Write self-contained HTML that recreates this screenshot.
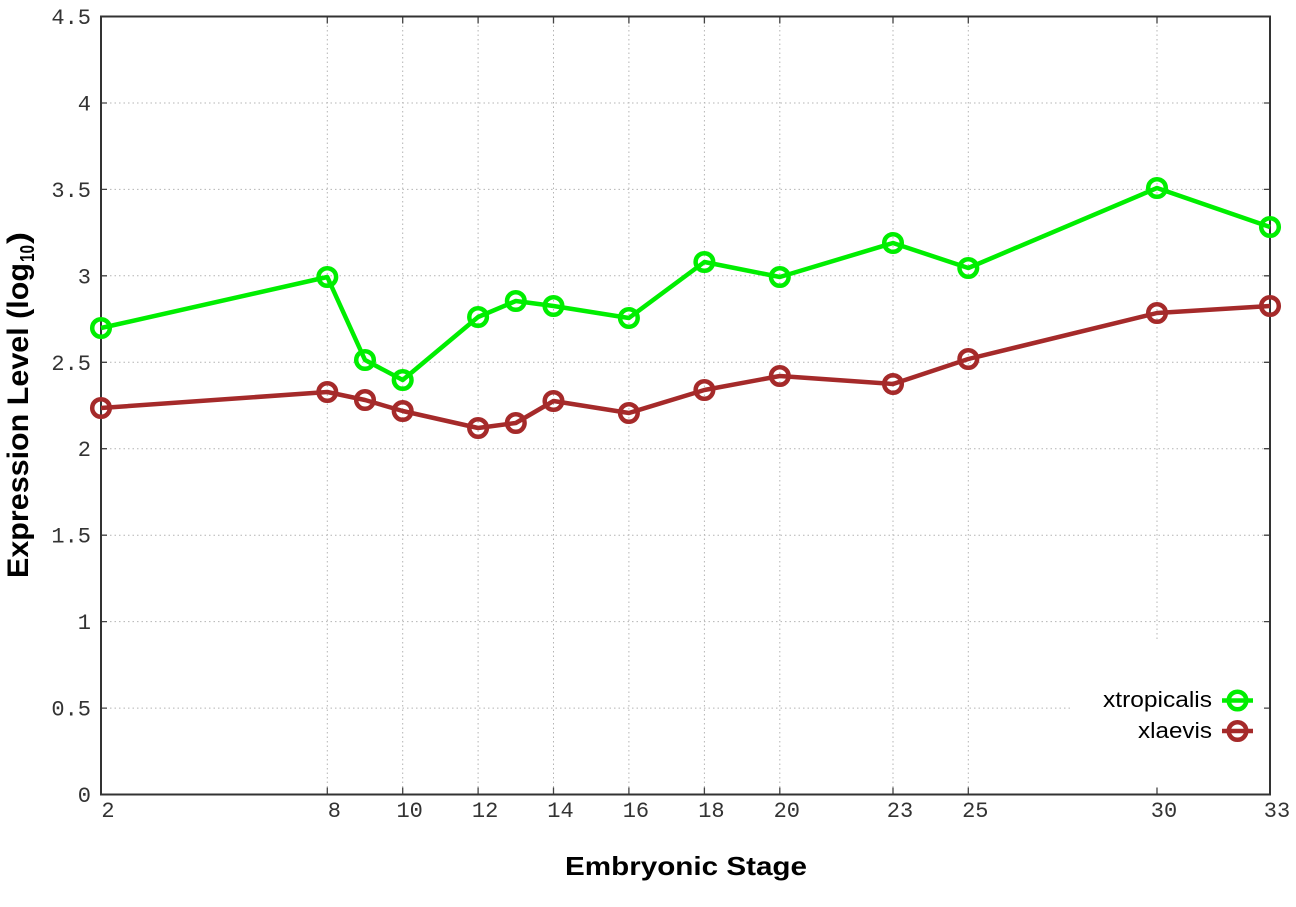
<!DOCTYPE html>
<html><head><meta charset="utf-8"><style>
html,body{margin:0;padding:0;background:#fff;}
svg{display:block;}
</style></head><body>
<svg width="1296" height="907" viewBox="0 0 1296 907" xmlns="http://www.w3.org/2000/svg">
<rect width="1296" height="907" fill="#fff"/>
<!-- grid -->
<g stroke="#b4b4b4" stroke-width="1" stroke-dasharray="1.5,3">
<line x1="101" y1="708.1" x2="1270" y2="708.1"/>
<line x1="101" y1="621.6" x2="1270" y2="621.6"/>
<line x1="101" y1="535.2" x2="1270" y2="535.2"/>
<line x1="101" y1="448.7" x2="1270" y2="448.7"/>
<line x1="101" y1="362.3" x2="1270" y2="362.3"/>
<line x1="101" y1="275.8" x2="1270" y2="275.8"/>
<line x1="101" y1="189.4" x2="1270" y2="189.4"/>
<line x1="101" y1="103" x2="1270" y2="103"/>
<line x1="327.3" y1="16.5" x2="327.3" y2="794.5"/>
<line x1="402.7" y1="16.5" x2="402.7" y2="794.5"/>
<line x1="478.1" y1="16.5" x2="478.1" y2="794.5"/>
<line x1="553.5" y1="16.5" x2="553.5" y2="794.5"/>
<line x1="628.9" y1="16.5" x2="628.9" y2="794.5"/>
<line x1="704.4" y1="16.5" x2="704.4" y2="794.5"/>
<line x1="779.8" y1="16.5" x2="779.8" y2="794.5"/>
<line x1="893" y1="16.5" x2="893" y2="794.5"/>
<line x1="968.3" y1="16.5" x2="968.3" y2="794.5"/>
<line x1="1157" y1="16.5" x2="1157" y2="794.5"/>
</g>
<!-- legend box (covers grid) -->
<rect x="1071" y="642" width="194" height="146" fill="#fff"/>
<!-- ticks -->
<g stroke="#444" stroke-width="1.3">
<path d="M101 708.1h6M101 621.6h6M101 535.2h6M101 448.7h6M101 362.3h6M101 275.8h6M101 189.4h6M101 103h6"/>
<path d="M1270 708.1h-6M1270 621.6h-6M1270 535.2h-6M1270 448.7h-6M1270 362.3h-6M1270 275.8h-6M1270 189.4h-6M1270 103h-6"/>
<path d="M327.3 794.5v-7M402.7 794.5v-7M478.1 794.5v-7M553.5 794.5v-7M628.9 794.5v-7M704.4 794.5v-7M779.8 794.5v-7M893 794.5v-7M968.3 794.5v-7M1157 794.5v-7"/>
<path d="M327.3 16.5v7M402.7 16.5v7M478.1 16.5v7M553.5 16.5v7M628.9 16.5v7M704.4 16.5v7M779.8 16.5v7M893 16.5v7M968.3 16.5v7M1157 16.5v7"/>
</g>
<!-- border -->
<rect x="101" y="16.5" width="1169" height="778" fill="none" stroke="#333" stroke-width="2"/>
<!-- y tick labels -->
<g font-family="'Liberation Mono', monospace" font-size="22" fill="#333" text-anchor="end">
<text x="91" y="802">0</text>
<text x="91" y="715.6">0.5</text>
<text x="91" y="629.1">1</text>
<text x="91" y="542.7">1.5</text>
<text x="91" y="456.2">2</text>
<text x="91" y="369.8">2.5</text>
<text x="91" y="283.3">3</text>
<text x="91" y="196.9">3.5</text>
<text x="91" y="110.5">4</text>
<text x="91" y="24">4.5</text>
</g>
<!-- x tick labels -->
<g font-family="'Liberation Mono', monospace" font-size="22" fill="#333" text-anchor="middle">
<text x="108" y="817">2</text>
<text x="334.3" y="817">8</text>
<text x="409.7" y="817">10</text>
<text x="485.1" y="817">12</text>
<text x="560.5" y="817">14</text>
<text x="635.9" y="817">16</text>
<text x="711.4" y="817">18</text>
<text x="786.8" y="817">20</text>
<text x="900" y="817">23</text>
<text x="975.3" y="817">25</text>
<text x="1164" y="817">30</text>
<text x="1277" y="817">33</text>
</g>
<!-- axis titles -->
<text x="565" y="875" font-family="'Liberation Sans', Arial, sans-serif" font-weight="bold" font-size="26" fill="#000" textLength="242" lengthAdjust="spacingAndGlyphs">Embryonic Stage</text>
<g transform="translate(28,578) rotate(-90)" font-family="'Liberation Sans', Arial, sans-serif" font-weight="bold" fill="#000">
<text x="0" y="0" font-size="30" textLength="315" lengthAdjust="spacingAndGlyphs">Expression Level (log</text>
<text x="316" y="6" font-size="20" textLength="17" lengthAdjust="spacingAndGlyphs">10</text>
<text x="334" y="0" font-size="30" textLength="12" lengthAdjust="spacingAndGlyphs">)</text>
</g>
<!-- series: xtropicalis -->
<g fill="none" stroke="#00ee00" stroke-width="4.5" stroke-linejoin="round">
<polyline points="101,328 327.3,277 365,360 402.7,380 478.1,317 515.8,301 553.5,306 628.9,318 704.4,262 779.8,277 893,243 968.3,268 1157,188 1270,227"/>
<circle cx="101" cy="328" r="8.8"/>
<circle cx="327.3" cy="277" r="8.8"/>
<circle cx="365" cy="360" r="8.8"/>
<circle cx="402.7" cy="380" r="8.8"/>
<circle cx="478.1" cy="317" r="8.8"/>
<circle cx="515.8" cy="301" r="8.8"/>
<circle cx="553.5" cy="306" r="8.8"/>
<circle cx="628.9" cy="318" r="8.8"/>
<circle cx="704.4" cy="262" r="8.8"/>
<circle cx="779.8" cy="277" r="8.8"/>
<circle cx="893" cy="243" r="8.8"/>
<circle cx="968.3" cy="268" r="8.8"/>
<circle cx="1157" cy="188" r="8.8"/>
<circle cx="1270" cy="227" r="8.8"/>
</g>
<!-- series: xlaevis -->
<g fill="none" stroke="#a52a2a" stroke-width="4.5" stroke-linejoin="round">
<polyline points="101,408 327.3,392 365,400 402.7,411 478.1,428 515.8,423 553.5,401 628.9,413 704.4,390 779.8,376 893,384 968.3,359 1157,313 1270,306"/>
<circle cx="101" cy="408" r="8.8"/>
<circle cx="327.3" cy="392" r="8.8"/>
<circle cx="365" cy="400" r="8.8"/>
<circle cx="402.7" cy="411" r="8.8"/>
<circle cx="478.1" cy="428" r="8.8"/>
<circle cx="515.8" cy="423" r="8.8"/>
<circle cx="553.5" cy="401" r="8.8"/>
<circle cx="628.9" cy="413" r="8.8"/>
<circle cx="704.4" cy="390" r="8.8"/>
<circle cx="779.8" cy="376" r="8.8"/>
<circle cx="893" cy="384" r="8.8"/>
<circle cx="968.3" cy="359" r="8.8"/>
<circle cx="1157" cy="313" r="8.8"/>
<circle cx="1270" cy="306" r="8.8"/>
</g>
<!-- legend -->
<g font-family="'Liberation Sans', Arial, sans-serif" font-size="22" fill="#000">
<text x="1103" y="707" textLength="109" lengthAdjust="spacingAndGlyphs">xtropicalis</text>
<text x="1138" y="738" textLength="74" lengthAdjust="spacingAndGlyphs">xlaevis</text>
</g>
<g fill="none" stroke-width="4.5">
<line x1="1222" y1="700.5" x2="1253" y2="700.5" stroke="#00ee00"/>
<circle cx="1237.5" cy="700.5" r="8.8" stroke="#00ee00"/>
<line x1="1222" y1="731" x2="1253" y2="731" stroke="#a52a2a"/>
<circle cx="1237.5" cy="731" r="8.8" stroke="#a52a2a"/>
</g>
</svg>
</body></html>
